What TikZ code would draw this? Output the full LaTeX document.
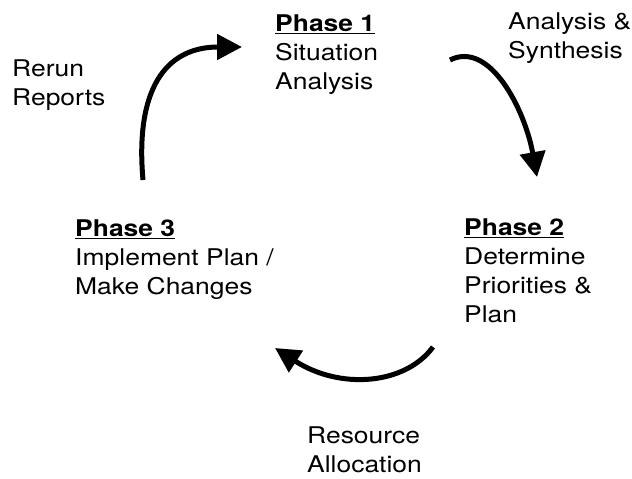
\documentclass[tikz,border=0pt]{standalone}
\usepackage{fontspec}
\setmainfont[FakeStretch=1.15]{TeX Gyre Heros}
\usetikzlibrary{arrows.meta}

\begin{document}
\begin{tikzpicture}
[x=1pt, y=-1pt,
every node/.style={anchor=north west, align=left, inner sep=0pt,
  font=\fontsize{23}{29}\selectfont},
cyclearrow/.style={line width=5pt, -{Triangle[length=25pt,width=25pt]}}]
\useasboundingbox (0,0) rectangle (632,479);
% phases
\node (phaseone) at (275,15) {\underline{\textbf{Phase 1}}\\Situation\\Analysis};
\node (phasetwo) at (464,219) {\underline{\textbf{Phase 2}}\\Determine\\Priorities \&\\Plan};
\node (phasethree) at (75,220) {\underline{\textbf{Phase 3}}\\Implement Plan /\\Make Changes};
% steps between phases
\node (synthesis) at (508,13) {Analysis \&\\Synthesis};
\node (rerun) at (12,60) {Rerun\\Reports};
\node (allocation) at (307,427) {Resource\\Allocation};
% arrows
\coordinate (rerunstart) at (143,180);
\coordinate (rerunend) at (242,47);
\coordinate (synthstart) at (450,60);
\coordinate (synthend) at (537,177);
\coordinate (allocstart) at (433,347);
\coordinate (allocend) at (275,348);
\draw[cyclearrow] (rerunstart) .. controls (135,90) and (165,47) .. (rerunend);
\draw[cyclearrow] (synthstart) .. controls (490,40) and (525,110) .. (synthend);
\draw[cyclearrow] (allocstart) .. controls (405,385) and (340,390) .. (allocend);
\end{tikzpicture}
\end{document}
